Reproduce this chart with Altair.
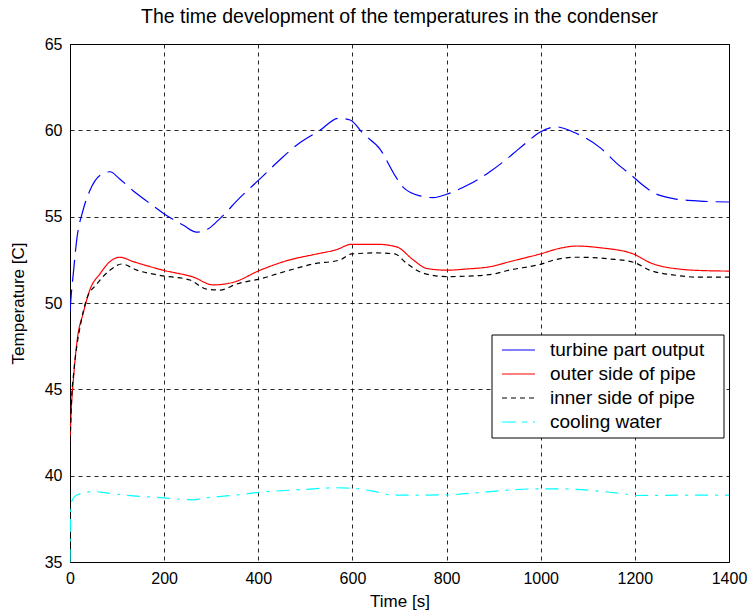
import altair as alt
import pandas as pd

# ---- data ----
t_turbine = [0, 3, 7, 14, 28, 42, 64, 85, 105, 134, 163, 198, 241, 269, 294, 319, 361, 404, 446, 489,
             531, 570, 595, 623, 659, 690, 708, 744, 772, 800, 843, 892, 935, 970, 999, 1034, 1069,
             1126, 1161, 1197, 1218, 1239, 1282, 1338, 1400]
T_turbine = [49.5, 50.6, 51.7, 53.6, 55.4, 56.5, 57.4, 57.6, 57.2, 56.5, 55.9, 55.2, 54.5, 54.1, 54.3,
             54.9, 56.1, 57.2, 58.3, 59.3, 60.0, 60.7, 60.6, 59.8, 58.9, 57.4, 56.7, 56.2, 56.1, 56.3,
             56.8, 57.6, 58.5, 59.3, 59.9, 60.2, 59.9, 59.0, 58.1, 57.3, 56.8, 56.4, 56.05, 55.9, 55.85]

t_outer = [0, 3, 7, 11, 16, 28, 42, 64, 85, 106, 134, 198, 262, 304, 347, 404, 467, 517, 567, 598,
           652, 694, 729, 758, 800, 843, 892, 935, 999, 1041, 1077, 1126, 1197, 1232, 1296, 1353, 1400]
T_outer = [42.0, 44.0, 45.5, 46.8, 48.0, 49.4, 50.75, 51.7, 52.4, 52.65, 52.4, 51.9, 51.5, 51.05, 51.2,
           51.9, 52.5, 52.8, 53.1, 53.4, 53.4, 53.25, 52.5, 52.0, 51.9, 51.97, 52.1, 52.4, 52.84, 53.17,
           53.3, 53.2, 52.84, 52.34, 51.96, 51.87, 51.85]

t_inner = [0, 3, 8, 15, 22, 35, 57, 85, 110, 142, 191, 255, 290, 319, 354, 404, 460, 517, 574, 598,
           652, 690, 715, 751, 800, 857, 907, 928, 999, 1034, 1077, 1147, 1197, 1232, 1289, 1331, 1400]
T_inner = [41.5, 44.2, 46.0, 47.6, 48.7, 50.2, 51.1, 51.9, 52.26, 51.9, 51.6, 51.33, 50.8, 50.75, 51.1,
           51.4, 51.85, 52.26, 52.5, 52.84, 52.9, 52.84, 52.3, 51.72, 51.53, 51.57, 51.72, 51.87, 52.24,
           52.53, 52.65, 52.55, 52.36, 51.9, 51.6, 51.5, 51.5]

t_cooling = [0, 1, 3.5, 10, 28, 50, 78, 120, 191, 262, 283, 347, 404, 496, 567, 602, 644, 687, 800,
             892, 984, 1048, 1133, 1176, 1204, 1300, 1400]
T_cooling = [35.0, 37.5, 38.5, 38.8, 39.0, 39.08, 39.0, 38.86, 38.73, 38.6, 38.7, 38.86, 39.04, 39.2,
             39.3, 39.27, 39.1, 38.87, 38.89, 39.08, 39.23, 39.23, 39.08, 38.95, 38.85, 38.87, 38.87]

series_names = ["turbine part output", "outer side of pipe", "inner side of pipe", "cooling water"]
series_colors = ["#0000ff", "#ff0000", "#000000", "#00ffff"]
plot_dashes = [[22, 8], [1, 0], [5, 4], [13, 7, 3, 7]]
legend_dashes = [[1, 0], [1, 0], [5, 4], [14, 6, 5, 6]]

x_ticks = [0, 200, 400, 600, 800, 1000, 1200, 1400]
y_ticks = [35, 40, 45, 50, 55, 60, 65]

FONT = "Liberation Sans"

x_enc = alt.X("t:Q", scale=alt.Scale(domain=[0, 1400], nice=False),
              axis=alt.Axis(values=x_ticks, title="Time [s]", format="d"))
y_enc = alt.Y("T:Q", scale=alt.Scale(domain=[35, 65], nice=False),
              axis=alt.Axis(values=y_ticks, title="Temperature [C]", format="d"))

series_data = [(t_turbine, T_turbine), (t_outer, T_outer), (t_inner, T_inner), (t_cooling, T_cooling)]

layers = []
for name, (ts, Ts), col, dash in zip(series_names, series_data, series_colors, plot_dashes):
    df = pd.DataFrame({"t": ts, "T": Ts})
    layers.append(
        alt.Chart(df).mark_line(color=col, strokeWidth=1.2, strokeDash=dash, interpolate="monotone",
                                clip=True)
        .encode(x=x_enc, y=y_enc)
    )

# ---- manual legend (MATLAB style box) ----
dummy = pd.DataFrame({"a": [0]})
box = alt.Chart(dummy).mark_rect(fill="white", stroke="black", strokeWidth=1).encode(
    x=alt.value(422), x2=alt.value(654), y=alt.value(291), y2=alt.value(394))
layers.append(box)
row_y = [306, 330, 354, 378]
for name, col, dash, ry in zip(series_names, series_colors, legend_dashes, row_y):
    layers.append(alt.Chart(dummy).mark_rule(color=col, strokeWidth=1.2, strokeDash=dash).encode(
        x=alt.value(432), x2=alt.value(465), y=alt.value(ry)))
    layers.append(alt.Chart(dummy).mark_text(text=name, align="left", baseline="middle",
                                             font=FONT, fontSize=19, color="black").encode(
        x=alt.value(480), y=alt.value(ry)))

chart = alt.layer(*layers).properties(
    width=659, height=518,
    padding={"left": 70, "top": 44, "right": 20, "bottom": 52},
    autosize=alt.AutoSizeParams(type="none"),
    background="white",
    title=alt.TitleParams("The time development of the temperatures in the condenser",
                          font=FONT, fontSize=19.5, fontWeight="normal", color="black", offset=9),
).configure_view(stroke="black", strokeWidth=1).configure_axis(
    domain=False, ticks=False, grid=True, gridColor="#000000", gridDash=[4, 4], gridOpacity=0.85,
    labelFont=FONT, labelFontSize=16, labelColor="black", labelPadding=8, labelFlush=False,
    labelOverlap=False,
    titleFont=FONT, titleFontSize=17, titleFontWeight="normal", titleColor="black",
).configure_axisY(titlePadding=17).configure_axisX(titlePadding=7)

chart.save("out.html", embed_options={"renderer": "svg", "actions": False})
